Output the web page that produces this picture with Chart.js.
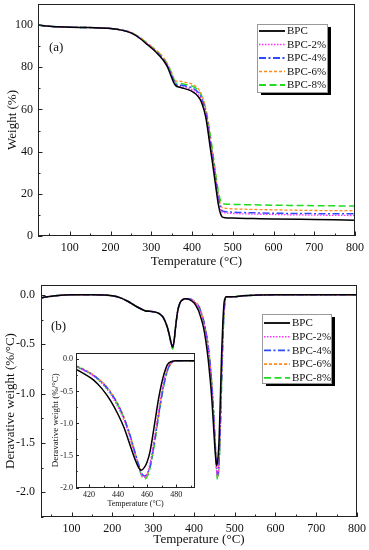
<!DOCTYPE html>
<html>
<head>
<meta charset="utf-8">
<script src="https://cdn.jsdelivr.net/npm/chart.js@4/dist/chart.umd.min.js"></script>
<style>
html, body { margin: 0; padding: 0; background: #fff; }
#wrap { position: relative; width: 369px; height: 550px; overflow: hidden; }
canvas { position: absolute; }
</style>
</head>
<body>
<div id="wrap">
  <canvas id="tga" width="369" height="272" style="left:0;top:0"></canvas>
  <canvas id="dtg" width="369" height="275" style="left:0;top:275px"></canvas>
  <canvas id="inset" width="150" height="165" style="left:50px;top:345px"></canvas>
</div>
<script>
// series names
var names = ['BPC', 'BPC-2%', 'BPC-4%', 'BPC-6%', 'BPC-8%'];

// (a) TGA - temperature (°C) and weight (%)
var tgaTemp = [22, 50, 100, 150, 200, 230, 250, 270, 290, 310, 330, 340, 350, 355, 360, 370, 380, 390, 400, 410, 420, 425, 430, 435, 440, 445, 450, 455, 460, 465, 470, 474, 480, 500, 550, 600, 700, 800];
var wBPC = [100, 99.4, 99.0, 98.8, 98.4, 97.5, 96.3, 94.0, 90.8, 87.5, 83.2, 80.0, 75.2, 72.8, 71.3, 70.5, 70.0, 69.4, 68.6, 67.2, 64.8, 62.5, 59.3, 55.0, 48.5, 41.5, 35.0, 28.0, 21.0, 14.5, 10.5, 9.0, 8.7, 8.5, 8.3, 8.1, 7.8, 7.5];
var wBPC2 = [100, 99.4, 99.0, 98.8, 98.4, 97.5, 96.4, 94.1, 91.0, 87.8, 83.6, 80.5, 76.0, 73.5, 71.8, 71.0, 70.6, 70.1, 69.4, 68.2, 66.0, 63.8, 60.8, 56.8, 51.0, 44.0, 37.5, 30.5, 23.5, 17.0, 12.5, 11.3, 11.0, 10.7, 10.4, 10.2, 9.9, 9.7];
var wBPC4 = [100, 99.4, 99.0, 98.8, 98.4, 97.5, 96.4, 94.1, 91.0, 87.8, 83.7, 80.6, 76.3, 73.8, 72.0, 71.5, 71.2, 70.8, 70.2, 69.0, 66.8, 64.6, 61.6, 57.6, 52.0, 45.0, 38.5, 31.5, 24.5, 18.0, 13.5, 12.0, 11.6, 11.3, 11.0, 10.8, 10.6, 10.5];
var wBPC6 = [100, 99.4, 99.0, 98.8, 98.4, 97.6, 96.6, 94.5, 91.5, 88.4, 84.5, 81.5, 77.5, 75.0, 73.6, 73.4, 73.0, 72.6, 72.0, 70.8, 68.5, 66.3, 63.2, 59.0, 53.3, 46.3, 39.5, 32.5, 25.5, 19.0, 14.8, 13.5, 13.2, 12.9, 12.6, 12.4, 12.1, 12.0];
var wBPC8 = [100, 99.4, 99.0, 98.8, 98.4, 97.6, 96.5, 94.4, 91.4, 88.3, 84.4, 81.3, 77.0, 74.5, 72.6, 72.4, 72.0, 71.6, 71.1, 70.0, 67.8, 65.8, 63.0, 59.2, 54.0, 47.5, 41.0, 34.0, 27.0, 20.5, 16.8, 15.5, 15.2, 15.0, 14.8, 14.6, 14.4, 14.2];

// (b) DTG - temperature (°C) and derivative weight (%/°C)
var dtgTemp = [25, 40, 60, 100, 150, 200, 220, 240, 260, 280, 300, 315, 325, 335, 340, 345, 348, 351, 355, 360, 366, 372, 380, 390, 400, 405, 411, 417, 423, 429, 435, 440, 444, 448, 451, 454, 456, 458, 460, 462, 465, 468, 471, 474, 477, 480, 485, 495, 520, 600, 700, 800];
var dBPC = [-0.03, -0.02, -0.01, 0, 0, -0.01, -0.03, -0.07, -0.12, -0.16, -0.17, -0.19, -0.23, -0.33, -0.41, -0.50, -0.53, -0.48, -0.33, -0.17, -0.08, -0.05, -0.04, -0.05, -0.08, -0.11, -0.155, -0.23, -0.32, -0.46, -0.65, -0.86, -1.06, -1.32, -1.52, -1.68, -1.73, -1.69, -1.60, -1.44, -1.03, -0.60, -0.28, -0.08, -0.03, -0.02, -0.02, -0.02, -0.01, 0, 0, 0];
var dBPC2 = [-0.03, -0.02, -0.01, 0, 0, -0.01, -0.03, -0.07, -0.12, -0.16, -0.17, -0.19, -0.23, -0.33, -0.41, -0.50, -0.52, -0.48, -0.33, -0.17, -0.08, -0.05, -0.04, -0.04, -0.07, -0.09, -0.12, -0.18, -0.26, -0.38, -0.55, -0.75, -0.95, -1.22, -1.45, -1.68, -1.80, -1.84, -1.78, -1.62, -1.22, -0.78, -0.38, -0.13, -0.04, -0.02, -0.02, -0.02, -0.01, 0, 0, 0];
var dBPC4 = [-0.03, -0.02, -0.01, 0, 0, -0.01, -0.03, -0.07, -0.12, -0.16, -0.17, -0.19, -0.23, -0.33, -0.41, -0.50, -0.52, -0.48, -0.33, -0.17, -0.08, -0.05, -0.04, -0.04, -0.07, -0.09, -0.11, -0.17, -0.25, -0.36, -0.52, -0.71, -0.91, -1.17, -1.40, -1.63, -1.76, -1.82, -1.79, -1.67, -1.30, -0.86, -0.45, -0.17, -0.05, -0.02, -0.02, -0.02, -0.01, 0, 0, 0];
var dBPC6 = [-0.03, -0.02, -0.01, 0, 0, -0.01, -0.03, -0.07, -0.12, -0.16, -0.17, -0.19, -0.23, -0.33, -0.41, -0.50, -0.51, -0.48, -0.33, -0.17, -0.08, -0.05, -0.04, -0.04, -0.06, -0.08, -0.10, -0.16, -0.24, -0.35, -0.51, -0.70, -0.90, -1.16, -1.40, -1.63, -1.77, -1.84, -1.80, -1.66, -1.28, -0.84, -0.43, -0.16, -0.05, -0.02, -0.02, -0.02, -0.01, 0, 0, 0];
var dBPC8 = [-0.03, -0.02, -0.01, 0, 0, -0.01, -0.03, -0.07, -0.12, -0.16, -0.17, -0.19, -0.23, -0.33, -0.42, -0.52, -0.55, -0.49, -0.33, -0.17, -0.08, -0.05, -0.04, -0.04, -0.07, -0.09, -0.11, -0.17, -0.25, -0.37, -0.53, -0.72, -0.92, -1.18, -1.42, -1.66, -1.80, -1.87, -1.83, -1.70, -1.33, -0.88, -0.47, -0.18, -0.05, -0.02, -0.02, -0.02, -0.01, 0, 0, 0];

// ticks
var tempTicks = [50, 100, 150, 200, 250, 300, 350, 400, 450, 500, 550, 600, 650, 700, 750, 800];
var tempLabels = [100, 200, 300, 400, 500, 600, 700, 800];
var weightTicks = [0, 10, 20, 30, 40, 50, 60, 70, 80, 90, 100, 110];
var weightLabels = [0, 20, 40, 60, 80, 100];
var derivTicks = [-2.25, -2.0, -1.75, -1.5, -1.25, -1.0, -0.75, -0.5, -0.25, 0.0];
var derivLabels = [-2.0, -1.5, -1.0, -0.5, 0.0];
var insetDerivTicks = [-2.0, -1.75, -1.5, -1.25, -1.0, -0.75, -0.5, -0.25, 0.0];
var insetTempTicks = [420, 430, 440, 450, 460, 470, 480, 490];
var insetTempLabels = [420, 440, 460, 480];

var colors = ['#000000', '#ff33ff', '#2b4bff', '#ff8a1f', '#1fdc1f'];
var dashes = [[], [1.5, 1.5], [7, 2.5, 2, 2.5], [3, 2], [7, 3.5]];
var widths = [1.5, 1.3, 1.5, 1.3, 1.5];

Chart.defaults.font.family = "'Liberation Serif', 'Times New Roman', serif";
Chart.defaults.color = '#111';

function makeSets(temps, series) {
    return series.map(function (vals, i) {
        return {
            label: names[i],
            data: temps.map(function (t, j) { return {x: t, y: vals[j]}; }),
            borderColor: colors[i],
            borderDash: dashes[i],
            borderWidth: widths[i],
            pointRadius: 0,
            fill: false,
            cubicInterpolationMode: 'monotone'
        };
    });
}

function isIn(list, v) {
    return list.some(function (m) { return Math.abs(m - v) < 1e-6; });
}

// frame, inward ticks, legend box and panel tag
var framePlugin = {
    id: 'frame',
    beforeDatasetsDraw: function (chart, args, o) {
        var a = chart.chartArea, ctx = chart.ctx;
        ctx.save();
        ctx.fillStyle = '#fff';
        ctx.fillRect(a.left, a.top, a.right - a.left, a.bottom - a.top);
        ctx.restore();
    },
    afterDraw: function (chart, args, o) {
        var ctx = chart.ctx, a = chart.chartArea;
        var xs = chart.scales.x, ys = chart.scales.y;
        ctx.save();
        ctx.strokeStyle = '#222';
        ctx.lineWidth = 1;
        ctx.setLineDash([]);
        ctx.strokeRect(Math.round(a.left) + 0.5, Math.round(a.top) + 0.5, Math.round(a.right - a.left) - 1, Math.round(a.bottom - a.top) - 1);
        ctx.beginPath();
        xs.ticks.forEach(function (t) {
            if (t.value < xs.min || t.value > xs.max) return;
            var px = Math.round(xs.getPixelForValue(t.value)) + 0.5;
            var len = isIn(o.xMajor, t.value) ? o.major : o.minor;
            ctx.moveTo(px, a.bottom);
            ctx.lineTo(px, a.bottom - len);
        });
        ys.ticks.forEach(function (t) {
            if (t.value < ys.min || t.value > ys.max) return;
            var py = Math.round(ys.getPixelForValue(t.value)) + 0.5;
            var len = isIn(o.yMajor, t.value) ? o.major : o.minor;
            ctx.moveTo(a.left, py);
            ctx.lineTo(a.left + len, py);
        });
        ctx.stroke();

        if (o.tag) {
            ctx.fillStyle = '#111';
            ctx.font = "13px 'Liberation Serif'";
            ctx.textBaseline = 'middle';
            ctx.fillText(o.tag.text, o.tag.x, o.tag.y);
        }
        if (o.legend) {
            var L = o.legend;
            ctx.fillStyle = '#000';
            ctx.fillRect(L.x + 4, L.y + 3, L.w, L.h);
            ctx.fillStyle = '#fff';
            ctx.fillRect(L.x, L.y, L.w, L.h);
            ctx.strokeStyle = '#999';
            ctx.strokeRect(L.x + 0.5, L.y + 0.5, L.w, L.h);
            ctx.font = "11px 'Liberation Serif'";
            ctx.textBaseline = 'middle';
            chart.data.datasets.forEach(function (ds, i) {
                var yy = L.row0 + i * L.step;
                ctx.strokeStyle = ds.borderColor;
                ctx.lineWidth = ds.borderWidth + 0.3;
                ctx.setLineDash(ds.borderDash);
                ctx.beginPath();
                ctx.moveTo(L.x + 2, yy);
                ctx.lineTo(L.x + 28, yy);
                ctx.stroke();
                ctx.fillStyle = '#111';
                ctx.fillText(ds.label, L.x + 30, yy + 0.5);
            });
        }
        ctx.restore();
    }
};

function zeroPad(s) {
    s.paddingTop = 0; s.paddingBottom = 0; s.paddingLeft = 0; s.paddingRight = 0;
}

function axisOptions(cfg) {
    return {
        x: {
            type: 'linear',
            min: cfg.xMin, max: cfg.xMax,
            afterBuildTicks: function (s) { s.ticks = cfg.xTicks.map(function (v) { return {value: v}; }); },
            afterFit: function (s) { s.height = cfg.xHeight; zeroPad(s); },
            grid: {display: false, drawTicks: false},
            border: {display: false},
            ticks: {
                autoSkip: false, maxRotation: 0, padding: cfg.xPad,
                font: {size: cfg.tickSize},
                callback: function (v) { return isIn(cfg.xLabels, v) ? String(v) : ''; }
            },
            title: {display: true, text: 'Temperature (°C)', font: {size: cfg.titleSize}, padding: {top: 0, bottom: cfg.xTitlePad}}
        },
        y: {
            type: 'linear',
            min: cfg.yMin, max: cfg.yMax,
            afterBuildTicks: function (s) { s.ticks = cfg.yTicks.map(function (v) { return {value: v}; }); },
            afterFit: function (s) { s.width = cfg.yWidth; zeroPad(s); },
            grid: {display: false, drawTicks: false},
            border: {display: false},
            ticks: {
                autoSkip: false, padding: cfg.yPad,
                font: {size: cfg.tickSize},
                callback: function (v) { return isIn(cfg.yLabels, v) ? cfg.fmt(v) : ''; }
            },
            title: {display: true, text: cfg.yTitle, font: {size: cfg.yTitleSize || cfg.titleSize}, padding: {top: cfg.yTitlePad, bottom: 0}}
        }
    };
}

new Chart(document.getElementById('tga'), {
    type: 'line',
    data: {datasets: makeSets(tgaTemp, [wBPC, wBPC2, wBPC4, wBPC6, wBPC8])},
    plugins: [framePlugin],
    options: {
        responsive: false, animation: false,
        layout: {padding: {top: 4, right: 14, left: 0, bottom: 0}},
        plugins: {
            legend: {display: false}, tooltip: {enabled: false},
            frame: {xMajor: tempLabels, yMajor: weightLabels, major: 4.5, minor: 2.5,
                tag: {text: '(a)', x: 49, y: 48},
                legend: {x: 257, y: 24, w: 70, h: 68, row0: 31, step: 13.5}}
        },
        scales: axisOptions({
            xMin: 22, xMax: 800, xTicks: tempTicks, xLabels: tempLabels, xHeight: 36, xPad: 5, xTitlePad: 3,
            yMin: 0, yMax: 110, yTicks: weightTicks, yLabels: weightLabels, yWidth: 38, yPad: 5, yTitlePad: 5,
            yTitle: 'Weight (%)', tickSize: 12, titleSize: 13,
            fmt: function (v) { return String(v); }
        })
    }
});

new Chart(document.getElementById('dtg'), {
    type: 'line',
    data: {datasets: makeSets(dtgTemp, [dBPC, dBPC2, dBPC4, dBPC6, dBPC8])},
    plugins: [framePlugin],
    options: {
        responsive: false, animation: false,
        layout: {padding: {top: 10, right: 12, left: 0, bottom: 0}},
        plugins: {
            legend: {display: false}, tooltip: {enabled: false},
            frame: {xMajor: tempLabels, yMajor: derivLabels, major: 4.5, minor: 2.5,
                tag: {text: '(b)', x: 51, y: 52},
                legend: {x: 262, y: 39, w: 69, h: 69, row0: 48, step: 13.7}}
        },
        scales: axisOptions({
            xMin: 25, xMax: 800, xTicks: tempTicks, xLabels: tempLabels, xHeight: 33, xPad: 5, xTitlePad: 3,
            yMin: -2.25, yMax: 0.1, yTicks: derivTicks, yLabels: derivLabels, yWidth: 41, yPad: 6, yTitlePad: 3,
            yTitle: 'Deravative weight (%/°C)', tickSize: 12, titleSize: 13,
            fmt: function (v) { return v.toFixed(1); }
        })
    }
});

new Chart(document.getElementById('inset'), {
    type: 'line',
    data: {datasets: makeSets(dtgTemp, [dBPC, dBPC2, dBPC4, dBPC6, dBPC8])},
    plugins: [framePlugin],
    options: {
        responsive: false, animation: false,
        layout: {padding: {top: 8, right: 5, left: 0, bottom: 0}},
        plugins: {
            legend: {display: false}, tooltip: {enabled: false},
            frame: {xMajor: insetTempLabels, yMajor: derivLabels, major: 3, minor: 1.8}
        },
        scales: axisOptions({
            xMin: 411, xMax: 493, xTicks: insetTempTicks, xLabels: insetTempLabels, xHeight: 22.5, xPad: 3, xTitlePad: 1.5,
            yMin: -2.0, yMax: 0.1, yTicks: insetDerivTicks, yLabels: derivLabels, yWidth: 26, yPad: 3, yTitlePad: 0,
            yTitle: 'Deravative weight (%/°C)', tickSize: 8, titleSize: 8, yTitleSize: 9,
            fmt: function (v) { return v.toFixed(1); }
        })
    }
});
</script>
</body>
</html>
